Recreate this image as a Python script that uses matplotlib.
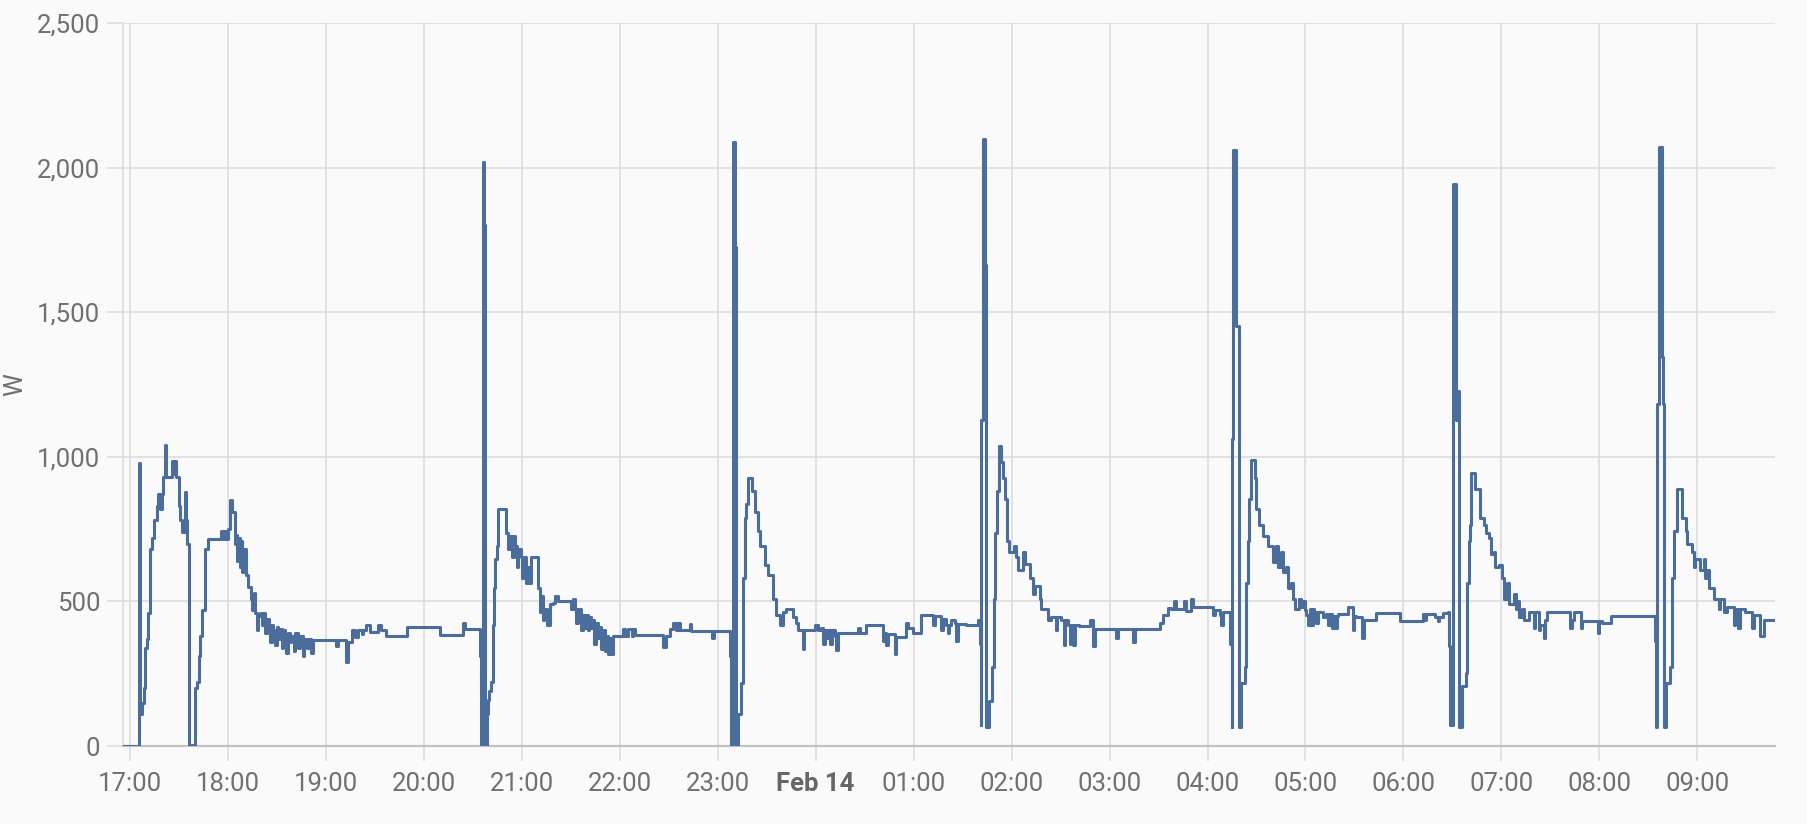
import numpy as np
import matplotlib
matplotlib.use("Agg")
import matplotlib.pyplot as plt

plt.rcParams['font.family'] = ['Roboto', 'DejaVu Sans']

# power readings, minutes after 17:00 (Feb 13) -> watts, drawn as steps
minutes = [
    -4.1, 5.7, 6.3, 7.5, 8.5, 9.5, 10.5, 11.5, 12.5, 13.5,
    15.0, 16.5, 17.5, 18.5, 19.5, 20.3, 21.4, 22.0, 26.0, 26.8,
    27.6, 28.4, 30.0, 31.0, 32.0, 33.6, 34.3, 35.2, 36.2, 39.8,
    41.0, 42.4, 43.2, 44.3, 46.0, 48.0, 56.0, 57.0, 58.0, 59.0,
    60.2, 61.2, 62.6, 64.5, 65.2, 65.8, 66.6, 67.4, 68.2, 69.0,
    69.8, 71.0, 72.4, 74.0, 75.0, 76.2, 77.0, 78.0, 78.8, 80.0,
    81.0, 82.0, 83.0, 83.8, 85.0, 86.0, 87.0, 88.0, 89.0, 90.0,
    91.0, 92.0, 93.0, 94.0, 95.0, 96.0, 97.0, 98.0, 99.0, 100.5,
    101.5, 103.0, 104.0, 106.0, 107.0, 108.5, 109.5, 111.0, 112.0, 126.1,
    127.5, 132.2, 133.5, 136.3, 137.8, 139.8, 142.0, 143.0, 144.9, 147.0,
    152.0, 154.0, 156.7, 169.8, 190.2, 204.1, 205.3, 214.3, 215.0, 216.4,
    217.2, 217.8, 218.8, 219.5, 220.2, 221.5, 222.3, 223.2, 223.6, 224.8,
    225.3, 230.4, 231.8, 233.0, 234.4, 235.2, 236.0, 237.0, 238.0, 239.4,
    240.4, 241.4, 242.4, 243.4, 244.4, 245.6, 249.8, 251.0, 252.0, 253.0,
    254.0, 255.5, 257.2, 259.2, 260.5, 262.3, 270.4, 271.5, 272.4, 273.5,
    274.5, 275.5, 276.5, 277.5, 278.5, 279.5, 280.6, 281.5, 282.7, 283.6,
    284.5, 285.7, 286.6, 287.6, 288.8, 289.8, 290.8, 291.8, 293.0, 294.0,
    295.0, 295.9, 302.0, 303.1, 305.1, 307.5, 308.0, 309.2, 326.5, 328.2,
    330.6, 332.7, 334.3, 335.7, 336.7, 342.9, 343.9, 356.7, 357.6, 367.4,
    368.2, 369.4, 370.6, 371.4, 372.3, 374.3, 375.5, 376.7, 377.6, 378.6,
    381.2, 382.7, 384.7, 386.1, 388.8, 390.8, 393.9, 395.9, 398.0, 400.0,
    402.0, 406.1, 408.2, 409.2, 412.0, 413.0, 419.4, 421.4, 423.5, 424.5,
    425.5, 426.5, 427.5, 429.0, 430.0, 431.7, 432.7, 433.7, 445.9, 447.0,
    451.0, 461.2, 462.2, 463.3, 464.3, 468.4, 469.4, 475.5, 476.5, 479.6,
    484.7, 491.8, 492.9, 496.9, 498.0, 500.0, 501.0, 502.0, 503.0, 505.1,
    506.0, 507.1, 512.2, 519.4, 520.4, 521.0, 521.4, 522.7, 523.9, 524.5,
    525.9, 528.0, 529.2, 530.0, 531.2, 532.2, 533.3, 534.7, 535.7, 537.4,
    538.4, 541.8, 542.9, 543.9, 547.0, 548.5, 551.0, 553.0, 554.1, 557.2,
    558.2, 562.3, 564.3, 567.0, 568.0, 570.4, 572.0, 573.0, 574.5, 575.5,
    576.5, 577.5, 578.6, 581.6, 587.8, 589.8, 590.8, 604.1, 605.1, 614.3,
    615.3, 630.6, 632.7, 635.7, 637.8, 639.5, 640.5, 645.9, 647.0, 650.0,
    651.0, 663.3, 664.3, 667.4, 668.5, 669.4, 673.9, 674.7, 675.1, 675.9,
    677.6, 679.2, 680.6, 682.7, 683.7, 684.7, 685.7, 686.5, 688.8, 689.8,
    691.8, 693.9, 697.0, 700.0, 702.0, 703.1, 705.1, 706.1, 708.2, 709.2,
    711.2, 712.3, 713.3, 716.3, 717.4, 718.5, 719.5, 720.4, 721.4, 722.5,
    723.5, 724.5, 725.5, 726.5, 727.6, 730.6, 732.7, 733.7, 734.7, 736.0,
    736.7, 738.0, 739.0, 739.8, 745.9, 749.0, 750.0, 751.1, 754.7, 756.1,
    763.3, 777.6, 791.8, 792.9, 793.9, 799.0, 801.0, 802.0, 804.1, 807.2,
    807.8, 808.6, 810.2, 810.6, 812.0, 812.8, 813.9, 815.9, 818.0, 819.0,
    820.2, 821.0, 821.6, 823.5, 826.7, 829.2, 830.8, 832.2, 833.3, 835.3,
    836.3, 838.4, 840.4, 841.4, 843.5, 844.5, 847.6, 848.6, 849.6, 850.6,
    852.7, 853.7, 856.7, 859.8, 860.8, 862.9, 863.9, 865.9, 866.8, 868.0,
    882.2, 883.3, 884.3, 888.4, 889.4, 899.0, 900.0, 901.6, 907.1, 934.3,
    934.9, 935.3, 936.5, 938.4, 939.0, 939.4, 941.0, 943.1, 944.5, 945.6,
    947.2, 950.8, 952.7, 953.7, 956.7, 957.8, 958.8, 961.8, 963.9, 964.9,
    965.9, 967.0, 970.0, 973.1, 974.1, 976.2, 978.2, 982.3, 983.3, 985.0,
    986.0, 989.4, 993.5, 994.5, 998.6, 1000.6, 1008.0,
]
watts = [
    0, 980, 110, 150, 200, 340, 370, 460, 680, 720,
    780, 830, 870, 820, 870, 930, 1040, 930, 985, 940,
    985, 930, 830, 780, 740, 880, 780, 700, 5, 200,
    220, 310, 380, 470, 680, 715, 745, 715, 745, 715,
    750, 850, 810, 700, 730, 640, 720, 620, 710, 600,
    680, 590, 550, 510, 470, 530, 460, 400, 450, 460,
    420, 460, 390, 440, 420, 360, 420, 400, 350, 410,
    370, 405, 340, 400, 380, 320, 390, 360, 380, 330,
    390, 340, 380, 310, 370, 340, 370, 320, 367, 345,
    367, 290, 360, 400, 378, 400, 388, 400, 418, 394,
    418, 400, 381, 410, 385, 427, 403, 310, 0, 2020,
    1800, 0, 110, 160, 190, 220, 418, 545, 645, 690,
    818, 736, 681, 727, 654, 727, 690, 618, 680, 654,
    581, 654, 563, 618, 563, 654, 545, 463, 518, 436,
    472, 418, 490, 494, 518, 500, 472, 509, 472, 427,
    472, 475, 400, 454, 409, 454, 400, 445, 409, 436,
    354, 427, 372, 410, 336, 400, 327, 381, 318, 372,
    318, 381, 403, 381, 403, 381, 403, 385, 341, 381,
    405, 427, 400, 427, 400, 421, 396, 372, 396, 310,
    0, 2090, 1726, 0, 110, 218, 581, 790, 836, 927,
    881, 808, 745, 690, 627, 590, 509, 454, 418, 463,
    472, 445, 427, 400, 336, 400, 418, 400, 409, 354,
    400, 372, 400, 354, 400, 381, 331, 390, 409, 390,
    418, 363, 390, 349, 387, 318, 378, 427, 409, 390,
    454, 418, 451, 400, 440, 418, 390, 418, 436, 427,
    363, 421, 418, 436, 354, 73, 1127, 2099, 1663, 64,
    154, 272, 509, 736, 881, 1036, 981, 927, 854, 709,
    672, 690, 654, 609, 672, 630, 581, 527, 554, 509,
    472, 436, 445, 400, 445, 436, 350, 436, 418, 354,
    418, 350, 418, 414, 436, 345, 403, 372, 403, 360,
    403, 427, 454, 476, 472, 500, 472, 500, 467, 509,
    481, 454, 469, 454, 418, 463, 354, 64, 1063, 2062,
    1453, 64, 218, 272, 563, 709, 854, 990, 927, 818,
    763, 727, 690, 636, 690, 618, 672, 600, 618, 545,
    563, 509, 472, 509, 481, 500, 470, 454, 418, 472,
    418, 472, 463, 427, 463, 445, 458, 418, 458, 409,
    451, 409, 451, 458, 481, 400, 451, 445, 372, 436,
    460, 432, 458, 436, 458, 445, 432, 445, 460, 463,
    345, 73, 1172, 1944, 1127, 1226, 64, 209, 254, 563,
    709, 763, 945, 890, 790, 763, 736, 718, 663, 672,
    618, 627, 581, 509, 563, 490, 527, 472, 500, 445,
    472, 436, 463, 409, 463, 400, 418, 372, 436, 463,
    409, 436, 463, 409, 432, 390, 432, 427, 451, 363,
    64, 1181, 2071, 1345, 1181, 64, 218, 272, 581, 745,
    890, 790, 745, 700, 672, 618, 645, 609, 645, 581,
    609, 545, 509, 472, 509, 463, 481, 418, 472, 409,
    472, 463, 409, 454, 381, 436, 436,
]

tick_minutes = list(range(0, 1020, 60))
tick_labels = ["17:00", "18:00", "19:00", "20:00", "21:00", "22:00", "23:00",
               "Feb 14", "01:00", "02:00", "03:00", "04:00", "05:00", "06:00",
               "07:00", "08:00", "09:00"]
y_ticks = [0, 500, 1000, 1500, 2000, 2500]

grid_c = "#dcdcdc"
text_c = "#707070"
line_c = "#4a6d9c"

fig = plt.figure(figsize=(18.08, 8.24), dpi=100)
fig.patch.set_facecolor("#fafafa")
ax = fig.add_axes([123 / 1808, 1 - 746 / 824, (1775 - 123) / 1808, (746 - 23) / 824])
ax.set_facecolor("#fafafa")

ax.step(minutes, watts, where="post", color=line_c, lw=2.2, zorder=3)

ax.set_xlim(-4.1, 1007.5)
ax.set_ylim(0, 2500)
ax.set_xticks(tick_minutes)
ax.set_xticklabels(tick_labels)
ax.set_yticks(y_ticks)
ax.set_yticklabels([f"{v:,}" for v in y_ticks])
ax.grid(True, color=grid_c, lw=1.2, zorder=0)
ax.set_axisbelow(True)

for s in ["top", "right"]:
    ax.spines[s].set_visible(False)
ax.spines["left"].set_color(grid_c)
ax.spines["left"].set_linewidth(1.2)
ax.spines["bottom"].set_color("#c2c2c2")
ax.spines["bottom"].set_linewidth(1.6)

ax.tick_params(axis="y", length=11.5, width=1.2, color=grid_c, pad=5,
               labelcolor=text_c, labelsize=18.5)
ax.tick_params(axis="x", length=11, width=1.2, color=grid_c, pad=8,
               labelcolor=text_c, labelsize=18.5)
for lab in ax.get_xticklabels():
    if lab.get_text() == "Feb 14":
        lab.set_fontweight("bold")
        lab.set_color("#666666")

ax.set_ylabel("W", color=text_c, fontsize=18.5)
ax.yaxis.set_label_coords(-0.058, 0.5)

fig.savefig("out.png", facecolor=fig.get_facecolor())
